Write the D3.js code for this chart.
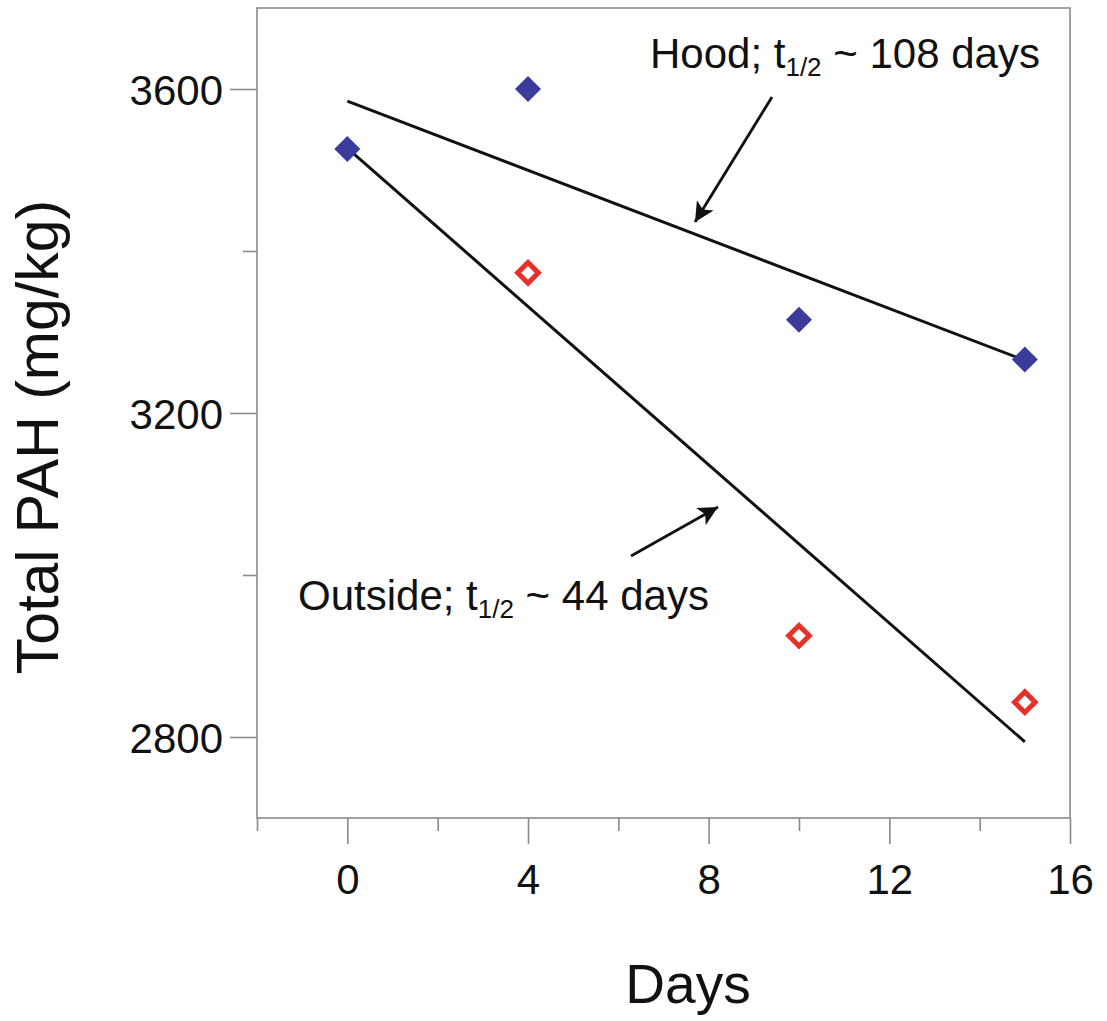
<!DOCTYPE html>
<html>
<head>
<meta charset="utf-8">
<script src="https://cdn.jsdelivr.net/npm/d3@7"></script>
<style>
  body { margin: 0; background: #fff; }
  text { font-family: "Liberation Sans", Arial, sans-serif; fill: #111; }
</style>
</head>
<body>
<div id="chart"></div>
<script>
// data
var hoodDays = [0, 4, 10, 15];
var hoodPAH = [3526, 3600, 3315, 3266];
var outsideDays = [4, 10, 15];
var outsidePAH = [3373, 2925, 2843];
// fitted decay lines (end points)
var hoodFitDays = [0, 15];
var hoodFitPAH = [3585, 3265];
var outsideFitDays = [0, 15];
var outsideFitPAH = [3527, 2794];

var xMajor = [0, 4, 8, 12, 16];
var xMinor = [-2, 2, 6, 10, 14];
var yMajor = [2800, 3200, 3600];
var yMinor = [3000, 3400];

var W = 1107, H = 1021;
var svg = d3.select("#chart").append("svg").attr("width", W).attr("height", H);

var x = d3.scaleLinear().domain([-2, 16]).range([257, 1070]);
var y = d3.scaleLinear().domain([2700, 3700]).range([818, 8]);

var axisColor = "#8a8a8a";

// frame
svg.append("rect")
    .attr("x", x(-2)).attr("y", y(3700))
    .attr("width", x(16) - x(-2)).attr("height", y(2700) - y(3700))
    .attr("fill", "none").attr("stroke", axisColor).attr("stroke-width", 1.6);

// x axis
var gx = svg.append("g").attr("transform", `translate(0,${y(2700)})`)
    .call(d3.axisBottom(x).tickValues(xMajor).tickSize(26).tickPadding(10).tickFormat(d3.format("d")));
var gxm = svg.append("g").attr("transform", `translate(0,${y(2700)})`)
    .call(d3.axisBottom(x).tickValues(xMinor).tickSize(13).tickFormat(""));

// y axis
var gy = svg.append("g").attr("transform", `translate(${x(-2)},0)`)
    .call(d3.axisLeft(y).tickValues(yMajor).tickSize(27).tickPadding(7).tickFormat(d3.format("d")));
var gym = svg.append("g").attr("transform", `translate(${x(-2)},0)`)
    .call(d3.axisLeft(y).tickValues(yMinor).tickSize(14).tickFormat(""));

[gx, gxm, gy, gym].forEach(g => {
    g.select(".domain").remove();
    g.selectAll(".tick line").attr("stroke", axisColor).attr("stroke-width", 1.6);
    g.selectAll(".tick text").style("font-size", "42px").attr("fill", "#111")
        .style("font-family", '"Liberation Sans", Arial, sans-serif');
});
gx.selectAll(".tick text").attr("dy", "0.95em");
gy.selectAll(".tick text").attr("dy", "0.36em");

// fit lines
function fitLine(days, vals) {
    svg.append("line")
        .attr("x1", x(days[0])).attr("y1", y(vals[0]))
        .attr("x2", x(days[1])).attr("y2", y(vals[1]))
        .attr("stroke", "#111").attr("stroke-width", 3);
}
fitLine(hoodFitDays, hoodFitPAH);
fitLine(outsideFitDays, outsideFitPAH);

// markers
var diamond = d3.symbol().type(d3.symbolDiamond2);
svg.selectAll(".outside").data(outsideDays).enter().append("path")
    .attr("d", diamond.size(270))
    .attr("transform", (d, i) => `translate(${x(d)},${y(outsidePAH[i])})`)
    .attr("fill", "#fff").attr("stroke", "#e8302a").attr("stroke-width", 5);
svg.selectAll(".hood").data(hoodDays).enter().append("path")
    .attr("d", diamond.size(430))
    .attr("transform", (d, i) => `translate(${x(d)},${y(hoodPAH[i])})`)
    .attr("fill", "#3a3c9c");

// annotations
svg.append("defs").append("marker")
    .attr("id", "head").attr("viewBox", "0 0 10 10")
    .attr("refX", 10).attr("refY", 5)
    .attr("markerWidth", 7).attr("markerHeight", 7)
    .attr("markerUnits", "strokeWidth")
    .attr("orient", "auto")
    .append("path").attr("d", "M0,0 L10,5 L0,10 L2.5,5 Z").attr("fill", "#111");

function arrow(x1, y1, x2, y2) {
    svg.append("line")
        .attr("x1", x1).attr("y1", y1).attr("x2", x2).attr("y2", y2)
        .attr("stroke", "#111").attr("stroke-width", 2.8)
        .attr("marker-end", "url(#head)");
}
arrow(772, 97, 695, 222);
arrow(631, 556, 718, 507);

function label(px, py, pre, post) {
    var t = svg.append("text").attr("x", px).attr("y", py).style("font-size", "42px");
    t.append("tspan").text(pre);
    t.append("tspan").text("1/2").style("font-size", "26px").attr("dy", 8);
    t.append("tspan").text(" ~ " + post).attr("dy", -8);
}
label(650, 68, "Hood; t", "108 days");
label(298, 610, "Outside; t", "44 days");

// axis titles
svg.append("text").attr("x", 688).attr("y", 1003).attr("text-anchor", "middle")
    .style("font-size", "55px").text("Days");
svg.append("text").attr("transform", "translate(58,437) rotate(-90)").attr("text-anchor", "middle")
    .style("font-size", "59px").text("Total PAH (mg/kg)");
</script>
</body>
</html>
